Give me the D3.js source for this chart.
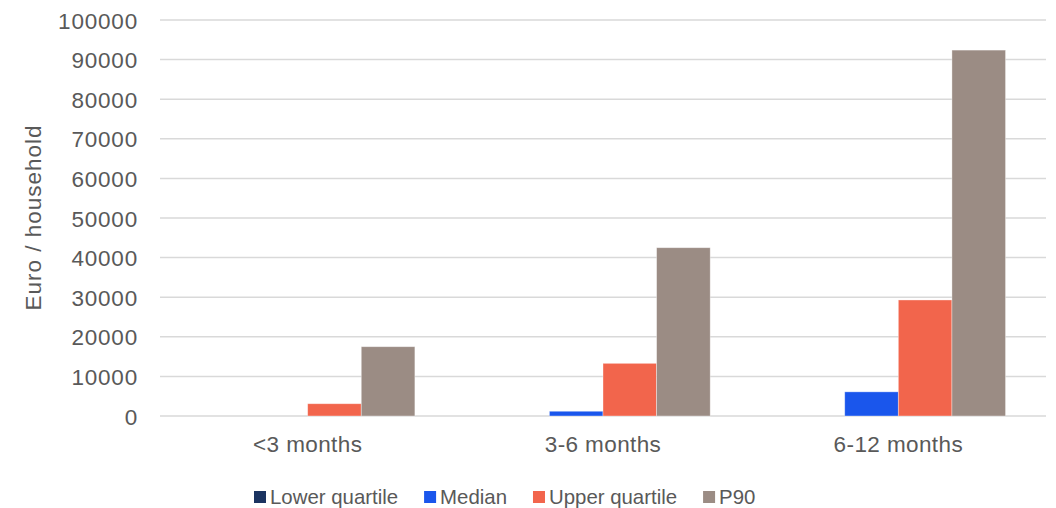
<!DOCTYPE html>
<html><head><meta charset="utf-8">
<script src="https://cdn.jsdelivr.net/npm/d3@7"></script>
<style>
html,body{margin:0;padding:0;background:#fff;}
svg{display:block;font-family:"Liberation Sans",Arial,sans-serif;}
</style></head>
<body><svg id="c" width="1056" height="508"></svg>
<script>
const categories = ["<3 months", "3-6 months", "6-12 months"];
const seriesNames = ["Lower quartile", "Median", "Upper quartile", "P90"];
const lowerQuartile = [0, 0, 0];
const median = [0, 1200, 6100];
const upperQuartile = [3100, 13300, 29300];
const p90 = [17500, 42500, 92400];
const seriesColors = ["#1b3461", "#1a56ec", "#f2654c", "#9b8c84"];
const yTicks = [0, 10000, 20000, 30000, 40000, 50000, 60000, 70000, 80000, 90000, 100000];
const yTitle = "Euro / household";

const seriesValues = [lowerQuartile, median, upperQuartile, p90];
const svg = d3.select("#c");
const m = {left: 160, right: 1046, top: 20, bottom: 416};
const textColor = "#595959";

const x0 = d3.scaleBand().domain(categories).range([m.left, m.right]).paddingInner(0.274).paddingOuter(0.137);
const x1 = d3.scaleBand().domain(seriesNames).range([0, x0.bandwidth()]).padding(0);
const y = d3.scaleLinear().domain([0, 100000]).range([m.bottom, m.top]);

// gridlines
svg.append("g").selectAll("line").data(yTicks).join("line")
  .attr("x1", m.left).attr("x2", m.right)
  .attr("y1", d => y(d)).attr("y2", d => y(d))
  .attr("stroke", "#d9d9d9").attr("stroke-width", 1.5);

// y axis labels
const yAxis = svg.append("g").attr("transform", `translate(${m.left},0)`)
  .call(d3.axisLeft(y).tickValues(yTicks).tickSize(0).tickPadding(22).tickFormat(d3.format("d")));
yAxis.select(".domain").remove();
yAxis.selectAll("text").attr("fill", textColor).style("font-size", "22.5px").style("letter-spacing", "0.8px")
  .attr("dy", "0.36em");

// bars
const groups = svg.append("g").selectAll("g").data(categories).join("g")
  .attr("transform", d => `translate(${x0(d)},0)`);
groups.selectAll("rect").data((c, i) => seriesNames.map((s, j) => ({s, v: seriesValues[j][i], j})))
  .join("rect")
  .attr("x", d => x1(d.s)).attr("width", x1.bandwidth())
  .attr("y", d => y(d.v)).attr("height", d => y(0) - y(d.v))
  .attr("fill", d => seriesColors[d.j])
  .attr("stroke", "#ffffff").attr("stroke-opacity", 0.45).attr("stroke-width", 0.8);

// x axis labels
const xAxis = svg.append("g").attr("transform", `translate(0,${m.bottom})`)
  .call(d3.axisBottom(x0).tickSize(0).tickPadding(0));
xAxis.select(".domain").remove();
xAxis.selectAll("text").attr("fill", textColor).style("font-size", "22.5px").style("letter-spacing", "0.4px")
  .attr("y", 36).attr("dy", 0);

// y title
svg.append("text").attr("transform", `translate(41,${(m.top + m.bottom) / 2 - 0.5}) rotate(-90)`)
  .attr("text-anchor", "middle").attr("fill", textColor).style("font-size", "22.5px").style("letter-spacing", "1px")
  .text(yTitle);

// legend
const leg = svg.append("g");
let lx = 254;
seriesNames.forEach((s, j) => {
  leg.append("rect").attr("x", lx).attr("y", 491).attr("width", 12).attr("height", 12).attr("fill", seriesColors[j]);
  const t = leg.append("text").attr("x", lx + 16).attr("y", 504).attr("fill", textColor)
    .style("font-size", "20.4px").text(s);
  lx += 16 + t.node().getComputedTextLength() + 26;
});
</script></body></html>
